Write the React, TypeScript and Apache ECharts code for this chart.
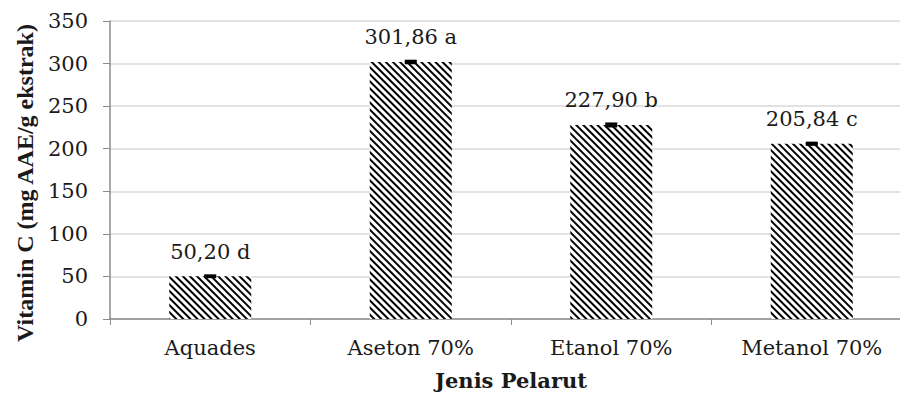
import React, { useEffect, useRef } from "react";
import * as echarts from "echarts";

const categories = ["Aquades", "Aseton 70%", "Etanol 70%", "Metanol 70%"];
const values = [50.2, 301.86, 227.9, 205.84];
const letters = ["d", "a", "b", "c"];
const errors = [0.8, 1.2, 1.5, 1.0];
const yTicks = { min: 0, max: 350, interval: 50 };

const FONT = "DejaVu Serif";
const TEXT = "#1a1a1a";

export default function App() {
  const ref = useRef<HTMLDivElement>(null);
  useEffect(() => {
    if (!ref.current) return;
    const chart = echarts.init(ref.current, null, { renderer: "svg" });
    chart.setOption({
      animation: false,
      backgroundColor: "#ffffff",
      grid: {
        left: 110,
        top: 21,
        width: 802,
        height: 298,
        containLabel: false,
        outerBoundsMode: "none",
      },
      xAxis: {
        type: "category",
        data: categories,
        name: "Jenis Pelarut",
        nameLocation: "middle",
        nameGap: 51,
        nameTextStyle: { fontFamily: FONT, fontWeight: "bold", fontSize: 21, color: TEXT },
        axisLine: { show: true, lineStyle: { color: "#8c8c8c", width: 1.5 } },
        axisTick: { show: true, alignWithLabel: false, length: 6, lineStyle: { color: "#8c8c8c" } },
        axisLabel: { fontFamily: FONT, fontSize: 21, color: TEXT, margin: 18 },
        splitLine: { show: false },
      },
      yAxis: {
        type: "value",
        min: yTicks.min,
        max: yTicks.max,
        interval: yTicks.interval,
        axisLine: { show: true, lineStyle: { color: "#8c8c8c", width: 1.5 } },
        axisTick: { show: true, length: 7, lineStyle: { color: "#8c8c8c" } },
        axisLabel: { fontFamily: FONT, fontSize: 21, color: TEXT, margin: 22 },
        splitLine: { show: true, lineStyle: { color: "#d9d9d9", width: 1.5 } },
      },
      graphic: [
        {
          type: "text",
          x: 25,
          y: 183,
          rotation: Math.PI / 2,
          style: {
            text: "Vitamin C (mg AAE/g ekstrak)",
            font: "bold 24px 'Liberation Serif'",
            fill: TEXT,
            textAlign: "center",
            textVerticalAlign: "middle",
          },
        },
      ],
      series: [
        {
          type: "bar",
          data: values,
          barWidth: 82,
          itemStyle: {
            color: "#ffffff",
            decal: {
              symbol: "rect",
              symbolSize: 1,
              color: "#000000",
              dashArrayX: [1, 0],
              dashArrayY: [1.8, 2.6],
              rotation: Math.PI / 4,
            },
          },
          label: {
            show: true,
            position: "top",
            distance: 14,
            fontFamily: FONT,
            fontSize: 21,
            color: TEXT,
            formatter: (p: any) =>
              values[p.dataIndex].toFixed(2).replace(".", ",") + " " + letters[p.dataIndex],
          },
          z: 2,
        },
        {
          type: "custom",
          data: values.map((v, i) => [i, v - errors[i], v + errors[i]]),
          encode: { x: 0, y: [1, 2] },
          z: 3,
          renderItem: (params: any, api: any) => {
            const x = api.value(0);
            const lo = api.coord([x, api.value(1)]);
            const hi = api.coord([x, api.value(2)]);
            const hw = 6;
            const style = { stroke: "#000", lineWidth: 2.5 };
            return {
              type: "group",
              children: [
                { type: "line", shape: { x1: lo[0], y1: lo[1], x2: hi[0], y2: hi[1] }, style },
                { type: "line", shape: { x1: lo[0] - hw, y1: lo[1], x2: lo[0] + hw, y2: lo[1] }, style },
                { type: "line", shape: { x1: hi[0] - hw, y1: hi[1], x2: hi[0] + hw, y2: hi[1] }, style },
              ],
            };
          },
        },
      ],
    });
    return () => chart.dispose();
  }, []);
  return (
    <div
      ref={ref}
      style={{ position: "fixed", left: 0, top: 0, width: 900, height: 394, background: "#fff" }}
    />
  );
}
